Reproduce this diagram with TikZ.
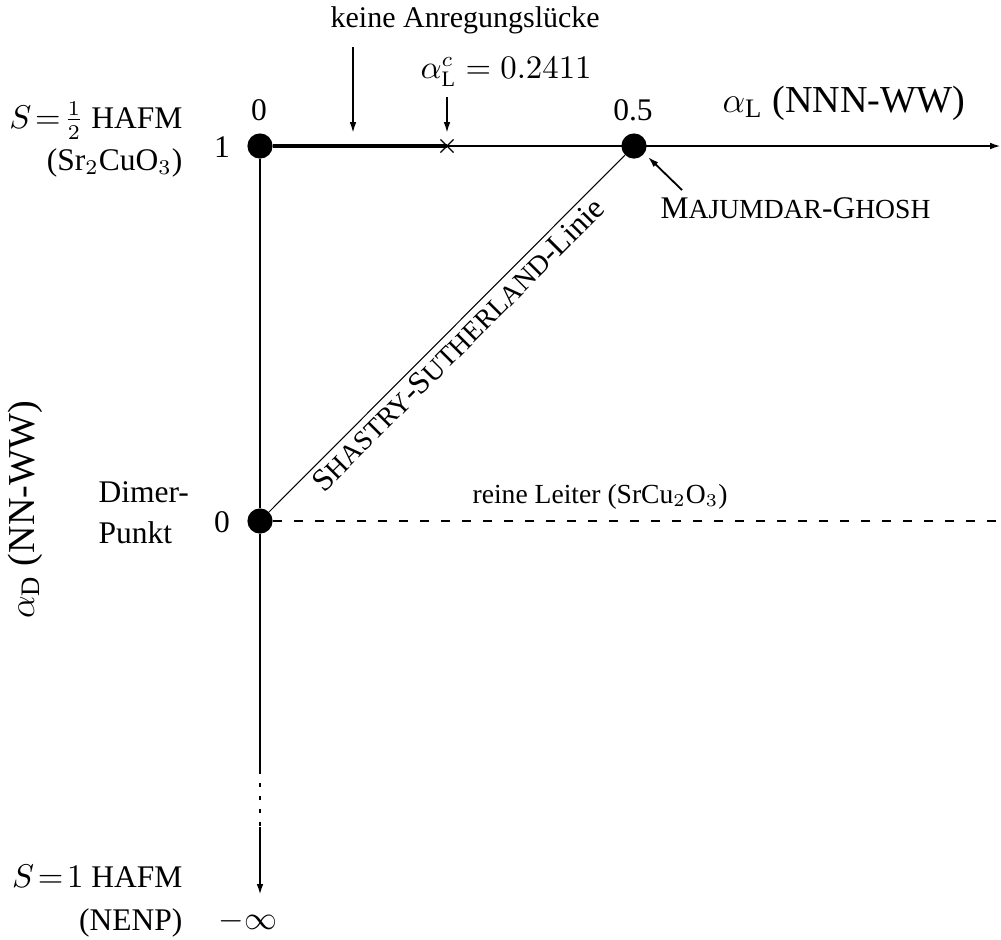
\documentclass[tikz,border=0pt]{standalone}
\usepackage{fontspec}
\setmainfont{Liberation Serif}
\usetikzlibrary{arrows.meta,shapes.misc}
\newcommand\fakesc[1]{{\fontsize{9.2}{10}\selectfont #1}}
\begin{document}
\begin{tikzpicture}[x=0.3333pt,y=-0.3333pt,
  axis/.style={line width=0.7pt},
  thickseg/.style={line width=1.4pt},
  thinline/.style={line width=0.35pt},
  ladder/.style={line width=0.5pt,dash pattern=on 3pt off 4pt},
  arr/.style={-{Latex[length=3.6pt,width=2.2pt]}},
  pointer/.style={line width=0.6pt,-{Latex[length=3.6pt,width=2.2pt]}},
  dot/.style={circle,fill=black,inner sep=0pt,minimum size=8.4pt},
  crossmark/.style={cross out,draw,inner sep=0pt,minimum size=4pt,line width=0.4pt},
  lbl/.style={inner sep=0pt,font=\fontsize{10.5}{12.6}\selectfont},
  midlbl/.style={inner sep=0pt,font=\fontsize{10}{12}\selectfont},
  smlbl/.style={inner sep=0pt,font=\fontsize{9.2}{11}\selectfont},
  biglbl/.style={inner sep=0pt,font=\fontsize{12.7}{15}\selectfont}]
\useasboundingbox (0,0) rectangle (1001,939);

% points
\node[dot] (p00) at (260,146) {};
\node[dot] (p05) at (634,146) {};
\node[dot] (dim) at (260,521) {};
\node[crossmark] (crs) at (447,146) {};
\coordinate (xend) at (1001,146);
\coordinate (yb1) at (260,770);
\coordinate (yb2) at (260,827);
\coordinate (yend) at (260,895);
\coordinate (lend) at (1001,521);

% axes
\draw[axis,arr] (p00) -- (xend);
\draw[thickseg] (p00) -- (crs.center);
\draw[axis] (p00) -- (dim);
\draw[axis] (dim) -- (yb1);
\draw[axis,dash pattern=on 1.3pt off 3pt] (yb1) -- (yb2);
\draw[axis,arr] (yb2) -- (yend);

% ladder line
\draw[ladder] (dim) -- (lend);

% Shastry-Sutherland line
\draw[thinline] (dim) -- (p05)
  node[midway,sloped,below,lbl,inner sep=1.5pt] (ssl) {S\fakesc{HASTRY}-S\fakesc{UTHERLAND}-Linie};

% pointer arrows
\coordinate (ka) at (353,47);
\coordinate (kb) at (353,133);
\draw[pointer] (ka) -- (kb);
\coordinate (ca) at (447,97);
\coordinate (cb) at (447,133);
\draw[pointer] (ca) -- (cb);
\coordinate (ma) at (682,190);
\coordinate (mb) at (648,157);
\draw[pointer] (ma) -- (mb);

% labels
\node[midlbl,anchor=base west] (kein) at (330,27) {keine Anregungslücke};
\node[lbl,anchor=base west] (alc) at (420,78) {$\alpha_{\mathrm{L}}^{c}=0.2411$};
\node[biglbl,anchor=base west] (al) at (722,112) {$\alpha_{\mathrm{L}}$ (NNN-WW)};
\node[biglbl,rotate=90] (ad) at (25,510) {$\alpha_{\mathrm{D}}$ (NN-WW)};
\node[lbl,anchor=base] (t0) at (259,120) {0};
\node[lbl,anchor=base] (t05) at (633,120) {0.5};
\node[lbl,anchor=base] (t1) at (222,157) {1};
\node[lbl,anchor=base] (t0d) at (222,532) {0};
\node[lbl,anchor=base] (tinf) at (248,929) {$-\infty$};
\node[lbl,anchor=base east] (shafm) at (183,128) {$S\!=\!\frac{1}{2}$ HAFM};
\node[lbl,anchor=base east] (sr2) at (183,170) {(Sr$_2$CuO$_3$)};
\node[lbl,anchor=base west] (dimer) at (98,502) {Dimer-};
\node[lbl,anchor=base west] (punkt) at (98,543) {Punkt};
\node[lbl,anchor=base east] (s1) at (183,887) {$S\!=\!1$ HAFM};
\node[lbl,anchor=base east] (nenp) at (183,930) {(NENP)};
\node[smlbl,anchor=base west] (leiter) at (472,503) {reine Leiter (SrCu$_2$O$_3$)};
\node[lbl,anchor=base west] (mg) at (660,218) {M\fakesc{AJUMDAR}-G\fakesc{HOSH}};
\end{tikzpicture}
\end{document}
